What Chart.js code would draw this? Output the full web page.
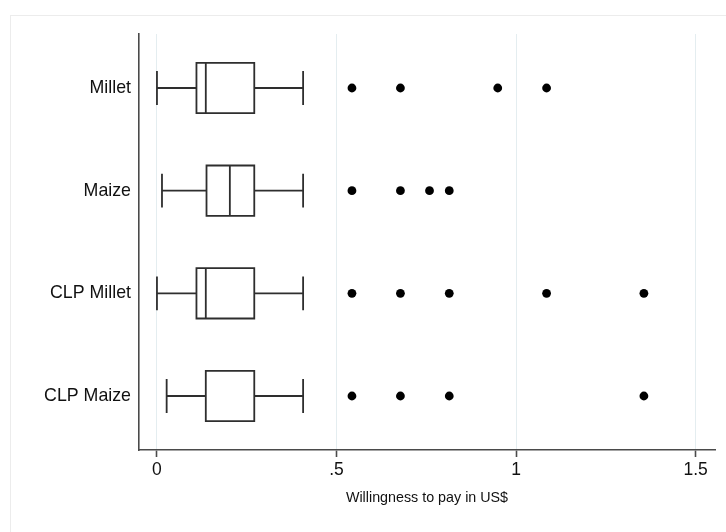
<!DOCTYPE html>
<html>
<head>
<meta charset="utf-8">
<title>Willingness to pay</title>
<script src="https://cdn.jsdelivr.net/npm/chart.js@4"></script>
<style>
  html, body { margin: 0; padding: 0; background: #fff; }
  canvas { display: block; }
</style>
</head>
<body>
<canvas id="wtp" width="726" height="532"></canvas>
<script>
// box plot summaries, one entry per product (US$)
const categories = ['Millet', 'Maize', 'CLP Millet', 'CLP Maize'];
const whiskerLow = [0, 0.014, 0, 0.027];
const q1 = [0.11, 0.138, 0.11, 0.136];
const median = [0.136, 0.203, 0.136, 0.136];
const q3 = [0.271, 0.271, 0.271, 0.271];
const whiskerHigh = [0.407, 0.407, 0.407, 0.407];
const outliers = [
  [0.543, 0.678, 0.949, 1.085],
  [0.543, 0.678, 0.759, 0.814],
  [0.543, 0.678, 0.814, 1.085, 1.356],
  [0.543, 0.678, 0.814, 1.356]
];
const xTicks = [0, 0.5, 1, 1.5];
const xTickLabels = ['0', '.5', '1', '1.5'];

const FONT = "'Liberation Sans', Arial, Helvetica, sans-serif";
const INK = '#2e2e2e';

const outlierPoints = [];
outliers.forEach((vals, i) => vals.forEach(v => outlierPoints.push({ x: v, y: i })));

// light frame around the whole graph region
const frame = {
  id: 'frame',
  beforeDraw(chart) {
    const ctx = chart.ctx;
    ctx.save();
    ctx.fillStyle = '#ffffff';
    ctx.fillRect(0, 0, chart.width, chart.height);
    ctx.strokeStyle = '#ececec';
    ctx.lineWidth = 1;
    ctx.strokeRect(10.5, 15.5, chart.width + 20, chart.height + 20);
    ctx.restore();
  }
};

// boxes, medians and whiskers drawn through the chart scales
const boxes = {
  id: 'boxes',
  afterDatasetsDraw(chart) {
    const { ctx, scales: { x, y } } = chart;
    const boxHalf = 0.245, capHalf = 0.165;
    ctx.save();
    ctx.strokeStyle = INK;
    ctx.lineWidth = 1.8;
    categories.forEach((c, i) => {
      const yc = y.getPixelForValue(i);
      const yt = y.getPixelForValue(i - boxHalf);
      const yb = y.getPixelForValue(i + boxHalf);
      const ct = y.getPixelForValue(i - capHalf);
      const cb = y.getPixelForValue(i + capHalf);
      const xl = x.getPixelForValue(whiskerLow[i]);
      const x1 = x.getPixelForValue(q1[i]);
      const xm = x.getPixelForValue(median[i]);
      const x3 = x.getPixelForValue(q3[i]);
      const xh = x.getPixelForValue(whiskerHigh[i]);
      ctx.beginPath();
      ctx.rect(x1, Math.min(yt, yb), x3 - x1, Math.abs(yb - yt));
      ctx.moveTo(xm, yt); ctx.lineTo(xm, yb);
      ctx.moveTo(xl, yc); ctx.lineTo(x1, yc);
      ctx.moveTo(x3, yc); ctx.lineTo(xh, yc);
      ctx.moveTo(xl, ct); ctx.lineTo(xl, cb);
      ctx.moveTo(xh, ct); ctx.lineTo(xh, cb);
      ctx.stroke();
    });
    ctx.restore();
  }
};

new Chart(document.getElementById('wtp'), {
  type: 'scatter',
  data: {
    datasets: [{
      data: outlierPoints,
      backgroundColor: '#000000',
      borderWidth: 0,
      pointRadius: 4.4,
      pointHoverRadius: 4.4
    }]
  },
  options: {
    responsive: false,
    animation: false,
    layout: { padding: { top: 34, right: 11, left: 0, bottom: 0 } },
    plugins: { legend: { display: false }, tooltip: { enabled: false } },
    scales: {
      x: {
        type: 'linear',
        min: -0.05,
        max: 1.554,
        afterBuildTicks: s => { s.ticks = xTicks.map(v => ({ value: v })); },
        afterFit: s => { s.height = 82; },
        ticks: {
          callback: (v) => xTickLabels[xTicks.indexOf(v)],
          color: '#111111',
          font: { family: FONT, size: 17.5 },
          padding: 3,
          maxRotation: 0,
          autoSkip: false
        },
        grid: {
          color: '#e4edf0',
          lineWidth: 1,
          tickColor: '#4a4a4a',
          tickLength: 7,
          tickWidth: 1.6
        },
        border: { display: true, color: '#4a4a4a', width: 1.6 },
        title: {
          display: true,
          text: 'Willingness to pay in US$',
          color: '#111111',
          font: { family: FONT, size: 14.3 },
          padding: { top: 0, bottom: 25 }
        }
      },
      y: {
        type: 'linear',
        reverse: true,
        min: -0.526,
        max: 3.526,
        afterBuildTicks: s => { s.ticks = categories.map((c, i) => ({ value: i })); },
        afterFit: s => { s.width = 139; },
        ticks: {
          callback: (v) => categories[v],
          color: '#111111',
          font: { family: FONT, size: 17.8 },
          padding: 8,
          autoSkip: false
        },
        grid: { display: false, drawTicks: false },
        border: { display: true, color: '#4a4a4a', width: 1.6 }
      }
    }
  },
  plugins: [frame, boxes]
});
</script>
</body>
</html>
